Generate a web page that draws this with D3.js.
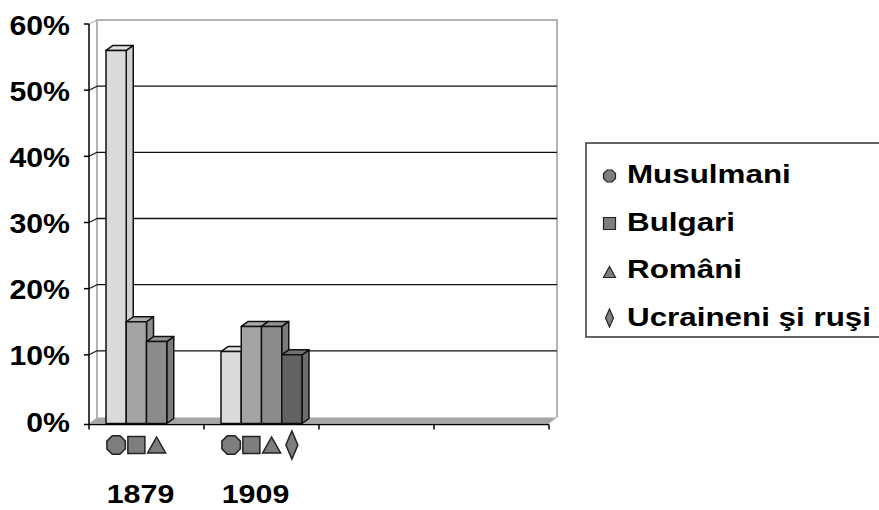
<!DOCTYPE html>
<html><head><meta charset="utf-8">
<script src="https://cdn.jsdelivr.net/npm/d3@7"></script>
<style>
html,body{margin:0;padding:0;background:#fff;}
svg text{font-family:"Liberation Sans",Arial,sans-serif;font-weight:bold;fill:#000;}
</style></head>
<body>
<svg id="c" width="879" height="510"></svg>
<script>
// ---- data ----
const categories = ["1879", "1909", "", ""];
const series = ["Musulmani", "Bulgari", "Români", "Ucraineni şi ruşi"];
const values1879 = [56, 15, 12, null];
const values1909 = [10.5, 14.3, 14.3, 10];
const values3 = [null, null, null, null];
const values4 = [null, null, null, null];
const yTicks = [0, 10, 20, 30, 40, 50, 60];
const tickLabels = ["0%", "10%", "20%", "30%", "40%", "50%", "60%"];
const allValues = [values1879, values1909, values3, values4];

// ---- styles ----
const front = ["#dadada", "#a4a4a4", "#8c8c8c", "#626262"];
const side  = ["#d2d2d2", "#8e8e8e", "#7a7a7a", "#6c6c6c"];
const top_  = ["#e2e2e2", "#ababab", "#939393", "#707070"];
const symbols = ["octagon", "square", "triangle", "diamond"];

const svg = d3.select("#c");
const DX = 8, DY = -4;       // wall depth
const BDX = 7, BDY = -5;     // bar depth
const x0 = d3.scaleBand().domain(d3.range(categories.length)).range([89, 549]);
const x1 = d3.scaleBand().domain(series).range([17, x0.bandwidth() - 17]);
const y = d3.scaleLinear().domain([0, 60]).range([421, 24]);
const floorY = 423.5;

// back wall
const wall = svg.append("g");
wall.append("rect").attr("x", 89 + DX).attr("y", y(60) + DY)
  .attr("width", 549 - 89).attr("height", floorY + DY - (y(60) + DY)).attr("fill", "#fff");
wall.append("path")
  .attr("d", `M${89+DX},${floorY+DY} V${y(60)+DY} H${549+DX} V${floorY+DY-2}`)
  .attr("fill", "none").attr("stroke", "#b4b4b4").attr("stroke-width", 2);

// gridlines on back wall
svg.append("g").selectAll("line").data(yTicks.filter(t => t > 0 && t < 60)).join("line")
  .attr("x1", 89 + DX).attr("x2", 549 + DX)
  .attr("y1", d => y(d) + DY).attr("y2", d => y(d) + DY)
  .attr("stroke", "#111").attr("stroke-width", 1.3);
// connectors from axis to wall
svg.append("g").selectAll("line").data(yTicks.filter(t => t > 0)).join("line")
  .attr("x1", 89).attr("x2", 89 + DX)
  .attr("y1", d => y(d)).attr("y2", d => y(d) + DY)
  .attr("stroke", d => d === 60 ? "#b4b4b4" : "#111").attr("stroke-width", 1.2);

// floor
svg.append("path")
  .attr("d", `M89,${floorY} L549,${floorY} L${549+DX},${floorY-6} L${89+DX},${floorY-6} Z`)
  .attr("fill", "#a6a6a6");

// bars
const bars = svg.append("g");
allValues.forEach((vals, ci) => {
  vals.forEach((v, si) => {
    if (v == null) return;
    const xl = x0(ci) + x1(series[si]);
    const xr = xl + x1.bandwidth();
    const yt = y(v);
    const g = bars.append("g").attr("stroke", "#111").attr("stroke-width", 1.5).attr("stroke-linejoin", "round");
    g.append("path").attr("fill", side[si])
      .attr("d", `M${xr},${floorY} L${xr},${yt} L${xr+BDX},${yt+BDY} L${xr+BDX},${floorY+BDY} Z`);
    g.append("path").attr("fill", top_[si])
      .attr("d", `M${xl},${yt} L${xr},${yt} L${xr+BDX},${yt+BDY} L${xl+BDX},${yt+BDY} Z`);
    g.append("rect").attr("fill", front[si])
      .attr("x", xl).attr("y", yt).attr("width", xr - xl).attr("height", floorY - yt);
  });
});

// y axis
const yAxis = svg.append("g");
yAxis.append("line").attr("x1", 89).attr("x2", 89).attr("y1", y(60)).attr("y2", floorY + 1)
  .attr("stroke", "#000").attr("stroke-width", 1.5);
yAxis.selectAll("line.t").data(yTicks).join("line").attr("class", "t")
  .attr("x1", 84).attr("x2", 89)
  .attr("y1", d => d === 0 ? floorY + 1 : y(d)).attr("y2", d => d === 0 ? floorY + 1 : y(d))
  .attr("stroke", "#000").attr("stroke-width", 1.5);
yAxis.selectAll("g.lab").data(yTicks).join("g").attr("class", "lab")
  .attr("transform", d => `translate(70,${y(d) + 10.5}) scale(1.08,1)`)
  .append("text").attr("text-anchor", "end").attr("font-size", 28)
  .text((d, i) => tickLabels[i]);

// x axis
const xAxis = svg.append("g");
xAxis.append("line").attr("x1", 89).attr("x2", 549).attr("y1", floorY + 1).attr("y2", floorY + 1)
  .attr("stroke", "#000").attr("stroke-width", 1.5);
const bounds = x0.domain().map(d => x0(d)).concat([x0.range()[1]]);
xAxis.selectAll("line.t").data(bounds).join("line").attr("class", "t")
  .attr("x1", d => d).attr("x2", d => d).attr("y1", floorY + 1).attr("y2", floorY + 6)
  .attr("stroke", "#000").attr("stroke-width", 1.5);

// symbol helper
function symPath(type, cx, cy, s) {
  if (type === "octagon") {
    const r = s.r;
    const pts = d3.range(8).map(k => {
      const a = Math.PI / 8 + k * Math.PI / 4;
      return [cx + r * Math.cos(a), cy + r * Math.sin(a)];
    });
    return "M" + pts.map(p => p.join(",")).join("L") + "Z";
  }
  if (type === "square") {
    const h = s.sq / 2;
    return `M${cx-h},${cy-h}H${cx+h}V${cy+h}H${cx-h}Z`;
  }
  if (type === "triangle") {
    return `M${cx},${cy - s.th/2}L${cx + s.tw/2},${cy + s.th/2}L${cx - s.tw/2},${cy + s.th/2}Z`;
  }
  return `M${cx},${cy - s.dh/2}L${cx + s.dw/2},${cy}L${cx},${cy + s.dh/2}L${cx - s.dw/2},${cy}Z`;
}

// category labels: symbols + year
const catSym = { r: 10, sq: 17, tw: 18, th: 16, dw: 12, dh: 28 };
allValues.forEach((vals, ci) => {
  vals.forEach((v, si) => {
    if (v == null) return;
    const cx = x0(ci) + x1(series[si]) + x1.bandwidth() / 2;
    svg.append("path").attr("d", symPath(symbols[si], cx, 445, catSym))
      .attr("fill", "#7e7e7e").attr("stroke", "#222").attr("stroke-width", 1.5);
  });
  if (categories[ci]) {
    svg.append("g")
      .attr("transform", `translate(${x0(ci) + x0.bandwidth() / 2 - 6},503) scale(1.17,1)`)
      .append("text").attr("text-anchor", "middle").attr("font-size", 26).text(categories[ci]);
  }
});

// legend
const leg = svg.append("g");
leg.append("rect").attr("x", 586).attr("y", 143).attr("width", 320).attr("height", 194)
  .attr("fill", "#fff").attr("stroke", "#333").attr("stroke-width", 1.5);
const legSym = { r: 6.5, sq: 12, tw: 12, th: 11, dw: 8, dh: 18 };
const legBase = [183, 230.5, 278, 326];
const symOff = [-7, -7, -6, -8];
series.forEach((s, i) => {
  leg.append("path").attr("d", symPath(symbols[i], 609.5, legBase[i] + symOff[i], legSym))
    .attr("fill", "#7e7e7e").attr("stroke", "#222").attr("stroke-width", 1.2);
  leg.append("g").attr("transform", `translate(627,${legBase[i]}) scale(1.23,1)`)
    .append("text").attr("font-size", 25.5).text(s);
});
</script>
</body></html>
